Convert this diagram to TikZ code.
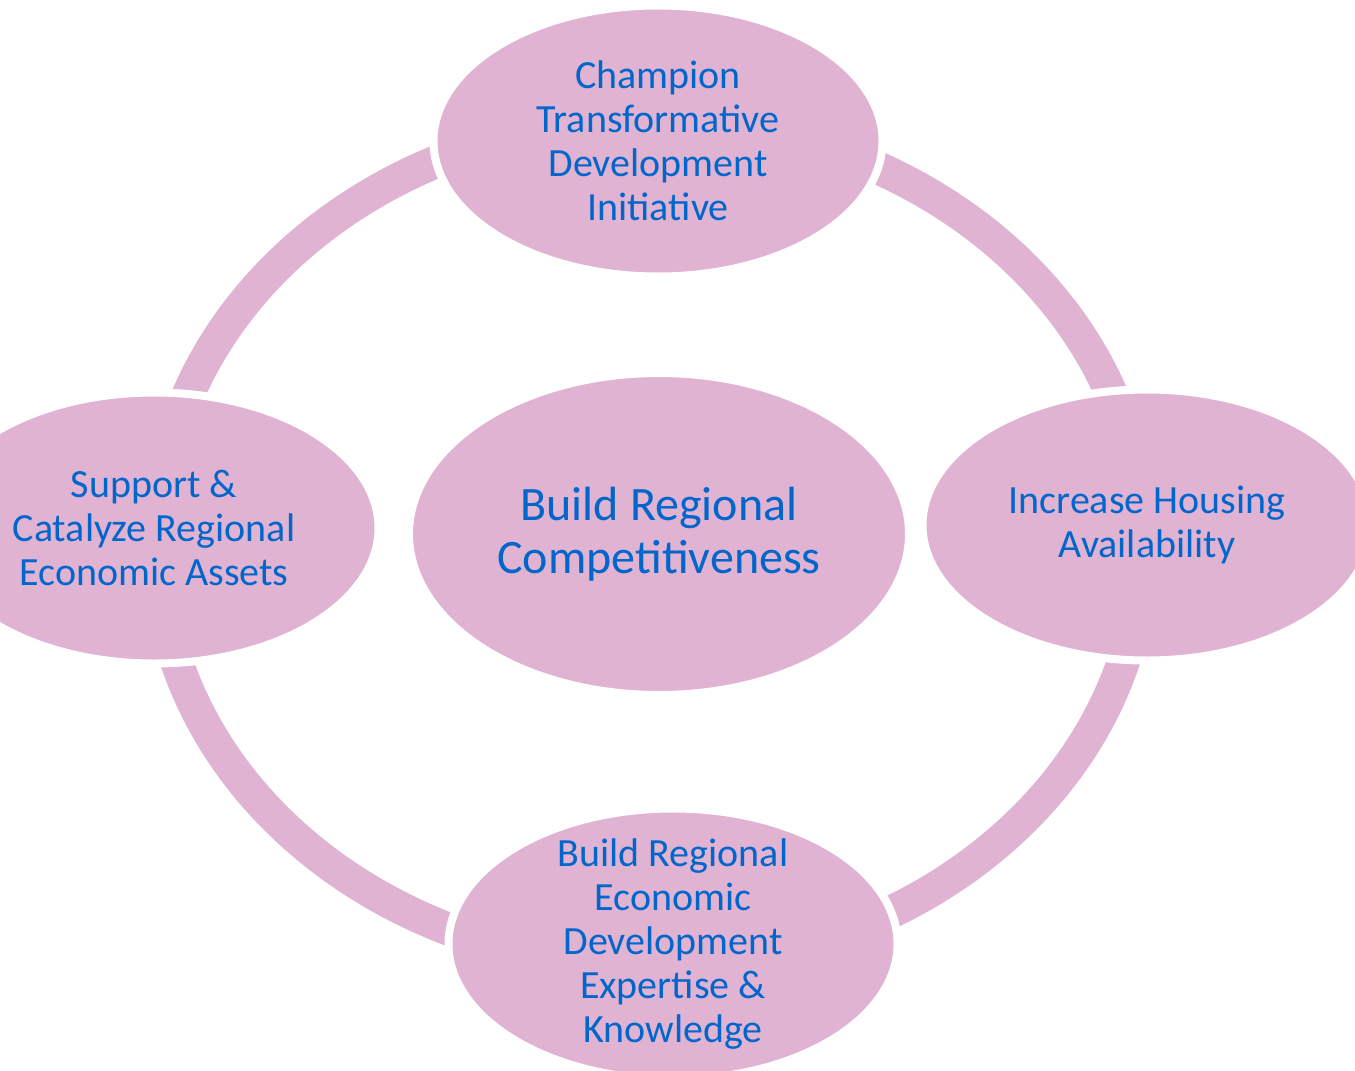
\documentclass[tikz,border=0pt]{standalone}
\usepackage{fontspec}
\setmainfont{Carlito}
\usetikzlibrary{shapes.geometric}
\definecolor{ringpink}{RGB}{225,179,210}
\definecolor{textblue}{RGB}{0,102,204}

\begin{document}
\begin{tikzpicture}[
  x=1pt, y=-1pt,
  bubble/.style={ellipse, fill=ringpink, draw=white, line width=8pt, inner sep=0pt,
                 outer sep=0pt, minimum width=449pt, minimum height=271pt},
  hub/.style={bubble, minimum width=500pt, minimum height=322pt},
  lbl/.style={align=center, text=textblue, inner sep=0pt, font=\fontsize{40}{44}\selectfont},
  hublbl/.style={lbl, font=\fontsize{48}{53}\selectfont}
]
\useasboundingbox (0,0) rectangle (1355,1071);
\clip (0,0) rectangle (1355,1071);

% ring
\draw[ringpink, line width=33pt] (650,543) ellipse [x radius=493pt, y radius=423pt];

% ellipses
\node[bubble] (top)    at (658,141) {};
\node[bubble] (right)  at (1147,525) {};
\node[bubble] (bottom) at (673,944) {};
\node[bubble] (left)   at (154,528) {};
\node[hub]    (centre) at (659,534) {};

% texts
\node[lbl] (topTxt)    at (top)    {Champion\\Transformative\\Development\\Initiative};
\node[lbl] (rightTxt)  at (right)  {Increase Housing\\Availability};
\node[lbl] (bottomTxt) at (bottom) {Build Regional\\Economic\\Development\\Expertise \&\\Knowledge};
\node[lbl] (leftTxt)   at (left)   {Support \&\\Catalyze Regional\\Economic Assets};
\node[hublbl] (centreTxt) at (centre) {Build Regional\\Competitiveness};
\end{tikzpicture}
\end{document}
